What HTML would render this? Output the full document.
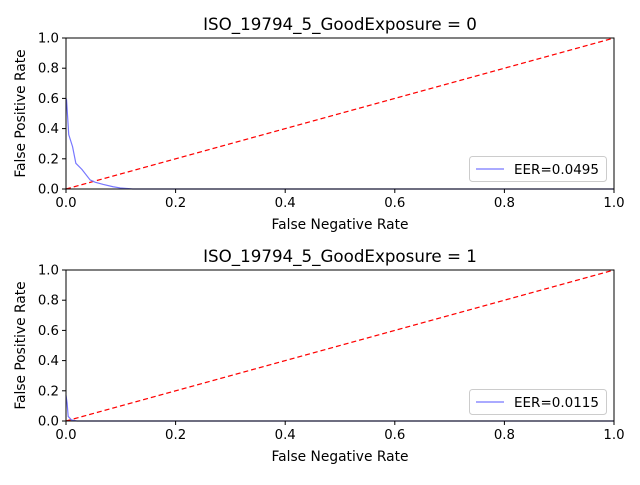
<!DOCTYPE html>
<html><head><meta charset="utf-8"><style>
body{margin:0;background:#fff;font-family:"Liberation Sans","DejaVu Sans",sans-serif;}
svg text{font-family:"DejaVu Sans","Liberation Sans",sans-serif;}
</style></head><body>
<svg id="c" width="640" height="480" xmlns="http://www.w3.org/2000/svg"></svg>
<script>
const ticks=[0,0.2,0.4,0.6,0.8,1.0];
const tickLabels=["0.0","0.2","0.4","0.6","0.8","1.0"];
const titles=["ISO_19794_5_GoodExposure = 0","ISO_19794_5_GoodExposure = 1"];
const eerLabels=["EER=0.0495","EER=0.0115"];
const fnr0=[0,0.001,0.005,0.012,0.018,0.029,0.044,0.053,0.068,0.086,0.099,0.122,1];
const fpr0=[0.6,0.59,0.36,0.28,0.17,0.13,0.06,0.045,0.03,0.015,0.007,0,0];
const fnr1=[0,0.002,0.004,0.01,0.02,1];
const fpr1=[0.17,0.12,0.03,0.007,0,0];
const series=[[fnr0,fpr0],[fnr1,fpr1]];
const NS="http://www.w3.org/2000/svg";
const svg=document.getElementById('c');
function mk(t,a,p){const e=document.createElementNS(NS,t);for(const k in a)e.setAttribute(k,a[k]);(p||svg).appendChild(e);return e;}
const L=66,R=614,tops=[38,270],H=151;
tops.forEach((T,i)=>{
  const g=mk('g',{});
  
  
  const sx=v=>L+v*(R-L), sy=v=>T+H-v*H;
  const ti=mk('text',{x:(L+R)/2,y:T-8,'text-anchor':'middle','font-size':16.7},g);ti.textContent=titles[i];
  
  
  const d=mk('line',{x1:sx(0),y1:sy(0),x2:sx(1),y2:sy(1),stroke:'#f00','stroke-width':1.2,'stroke-dasharray':'5,3'},g);
  
  
  const [xs,ys]=series[i];
  const pl=mk('polyline',{points:xs.map((x,j)=>sx(x)+','+sy(ys[j])).join(' '),fill:'none',stroke:'#7777ff','stroke-width':1.2},g);
  
  
  mk('line',{x1:sx(0),y1:sy(0),x2:sx(1),y2:sy(0),stroke:'#0000cc','stroke-width':1},g);
  const fr=mk('rect',{x:L,y:T,width:R-L,height:H,fill:'none',stroke:'#000','stroke-width':1},g);
  
  
  ticks.forEach((t,k)=>{
    mk('line',{x1:sx(t),y1:T+H,x2:sx(t),y2:T+H+4,stroke:'#000'},g);
    const a=mk('text',{x:sx(t),y:T+H+18,'text-anchor':'middle','font-size':13.3},g);a.textContent=tickLabels[k];
    
    
    mk('line',{x1:L-4,y1:sy(t),x2:L,y2:sy(t),stroke:'#000'},g);
    const b=mk('text',{x:L-7,y:sy(t)+4.5,'text-anchor':'end','font-size':13.3},g);b.textContent=tickLabels[k];
    
    
  });
  const xl=mk('text',{x:(L+R)/2,y:T+H+40,'text-anchor':'middle','font-size':13.8},g);xl.textContent='False Negative Rate';
  
  
  const yl=mk('text',{x:0,y:0,'text-anchor':'middle','font-size':13.8,transform:`translate(25,${T+H/2}) rotate(-90)`},g);yl.textContent='False Positive Rate';
  
  
  const lg=mk('g',{},g);
  
  
  const ly=i==0?156:389;
  mk('rect',{x:469.5,y:ly+0.5,width:137,height:25,rx:3,fill:'#fff',stroke:'#ccc'},lg);
  mk('line',{x1:476,y1:ly+13,x2:504,y2:ly+13,stroke:'#7777ff','stroke-width':1.2},lg);
  const lt=mk('text',{x:514,y:ly+18,'font-size':13.5},lg);lt.textContent=eerLabels[i];
});
</script>
</body></html>
